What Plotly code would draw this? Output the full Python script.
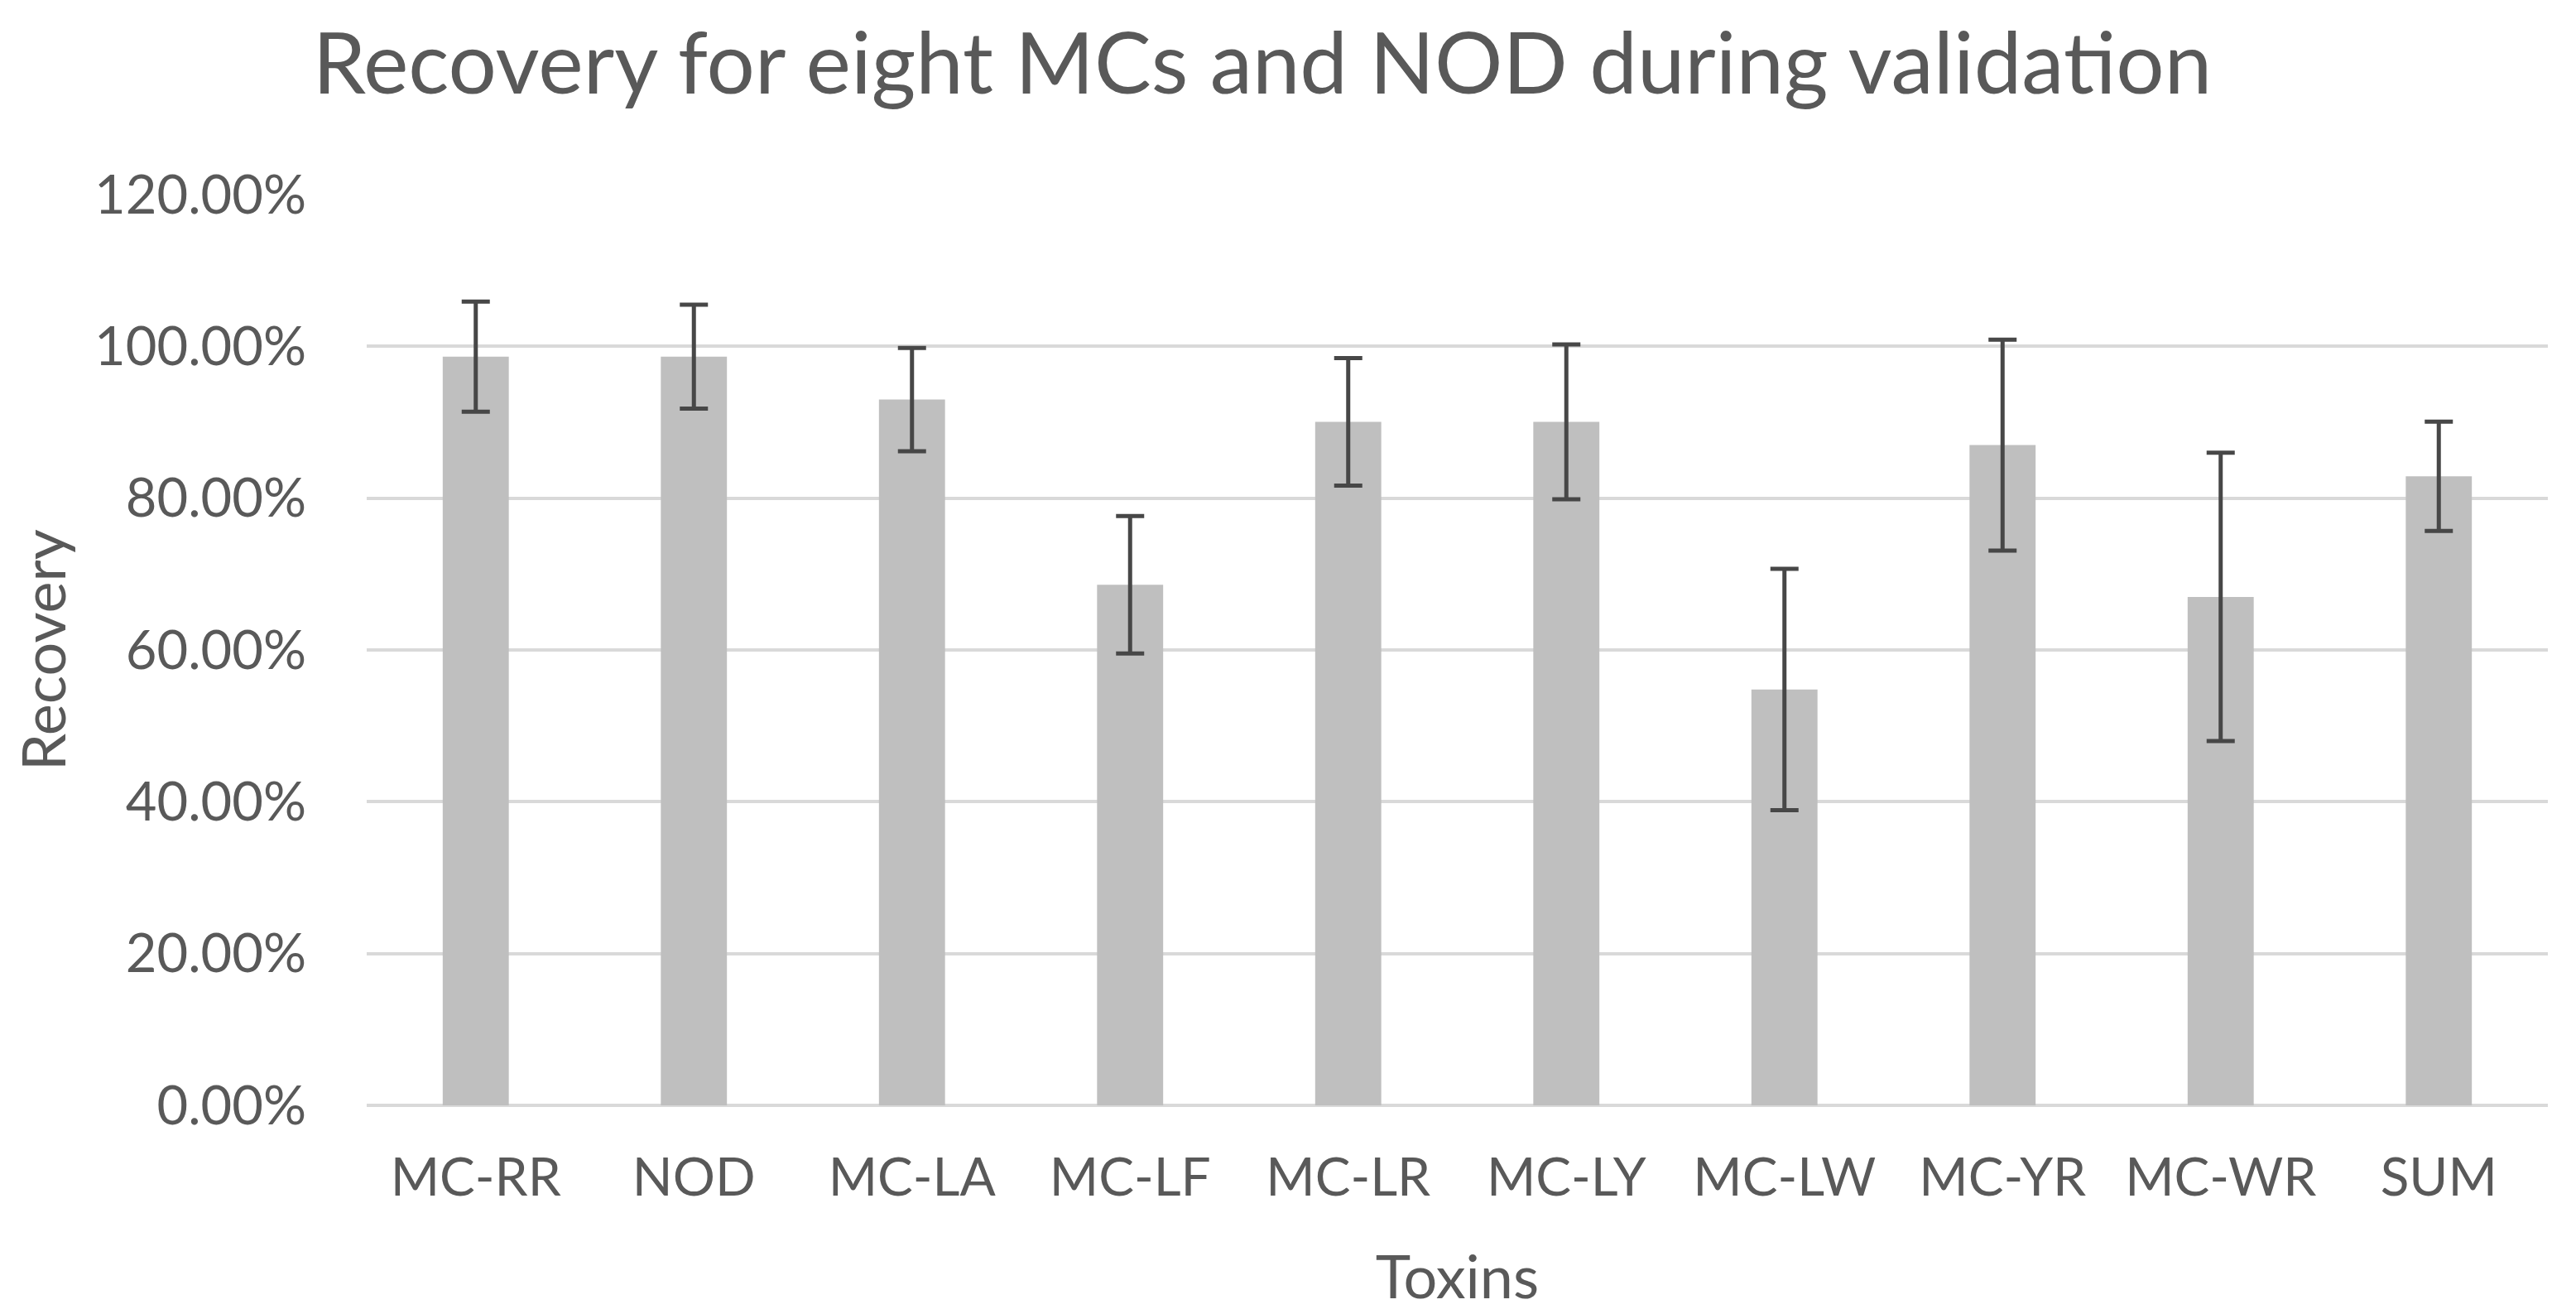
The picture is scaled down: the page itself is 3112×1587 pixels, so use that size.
import plotly.graph_objects as go

categories = ["MC-RR", "NOD", "MC-LA", "MC-LF", "MC-LR", "MC-LY", "MC-LW", "MC-YR", "MC-WR", "SUM"]
recovery = [0.9865, 0.9865, 0.930, 0.686, 0.9005, 0.9005, 0.548, 0.870, 0.670, 0.829]
errors = [0.0725, 0.0685, 0.068, 0.0905, 0.084, 0.102, 0.159, 0.139, 0.190, 0.072]
y_ticks = [0, 0.2, 0.4, 0.6, 0.8, 1.0, 1.2]

title_text = "Recovery for eight MCs and NOD during validation"
x_title = "Toxins"
y_title = "Recovery"

FONT = "Lato"
TXT = "#595959"

fig = go.Figure()
fig.add_trace(go.Bar(
    x=categories,
    y=recovery,
    marker=dict(color="#BFBFBF", line=dict(width=0)),
    error_y=dict(type="data", array=errors, visible=True,
                 color="#474747", thickness=5, width=17),
    showlegend=False,
))

fig.update_layout(
    width=3112, height=1587,
    margin=dict(l=428, r=42, t=227, b=260, pad=0),
    paper_bgcolor="white", plot_bgcolor="white",
    bargap=0.697,
    font=dict(family=FONT, color=TXT),
    title=dict(text=title_text, x=1517/3112, xanchor="center",
               xref="container", yref="container",
               y=1 - 69/1587, yanchor="middle",
               font=dict(family=FONT, size=103, color=TXT)),
    xaxis=dict(
        showgrid=False, showline=False, zeroline=False,
        ticks="", tickfont=dict(family=FONT, size=64, color=TXT),
        ticklabelstandoff=44,
        title=dict(text=x_title, font=dict(family=FONT, size=72, color=TXT), standoff=60),
    ),
    yaxis=dict(
        range=[0, 1.2001], tickvals=y_ticks, tickformat=".2%",
        showgrid=True, gridcolor="#D9D9D9", gridwidth=4,
        zeroline=True, zerolinecolor="#D9D9D9", zerolinewidth=4,
        showline=False, ticks="",
        tickfont=dict(family=FONT, size=65, color=TXT),
        ticklabelstandoff=72,
        title=dict(text=y_title, font=dict(family=FONT, size=72, color=TXT), standoff=44),
    ),
)

fig.write_html("out.html")
